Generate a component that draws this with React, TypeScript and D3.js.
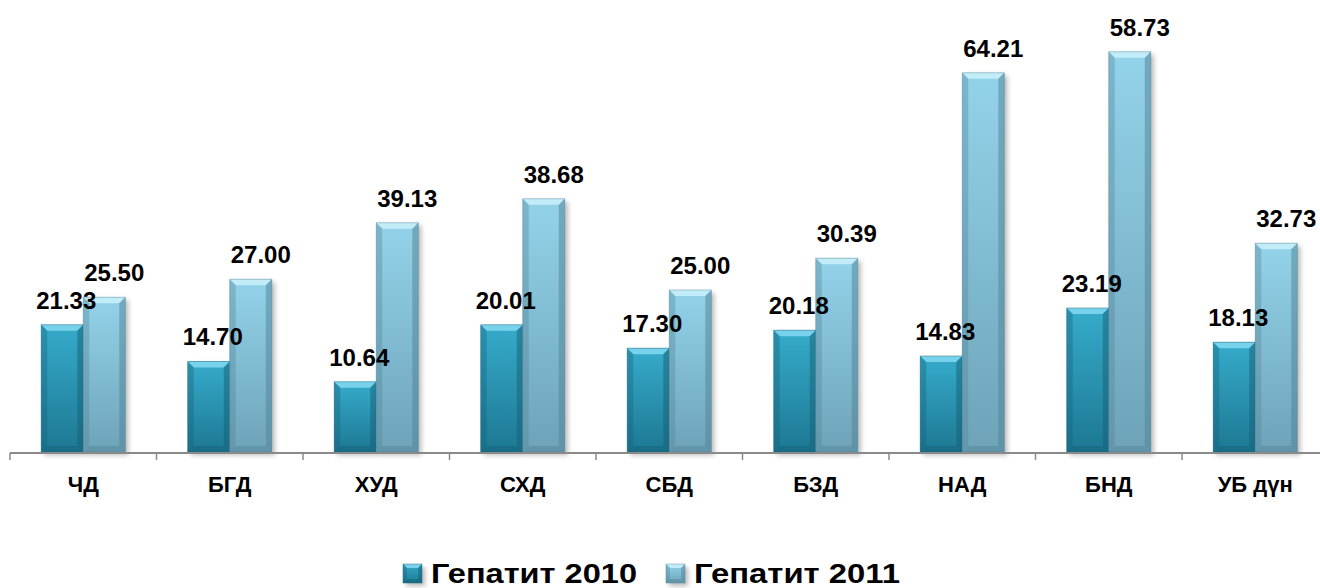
import { useEffect, useRef } from 'react';
import * as d3 from 'd3';

const categories = ['ЧД', 'БГД', 'ХУД', 'СХД', 'СБД', 'БЗД', 'НАД', 'БНД', 'УБ дүн'];
const seriesNames = ['Гепатит 2010', 'Гепатит 2011'];

// printed data labels
const labels2010 = [21.33, 14.7, 10.64, 20.01, 17.3, 20.18, 14.83, 23.19, 18.13];
const labels2011 = [25.5, 27.0, 39.13, 38.68, 25.0, 30.39, 64.21, 58.73, 32.73];

// bar heights as drawn in the picture (they do not follow the labels exactly)
const bars2010 = [21.2, 15.1, 11.7, 21.2, 17.3, 20.3, 16.0, 24.0, 18.3];
const bars2011 = [25.8, 28.8, 38.2, 42.2, 27.0, 32.3, 63.2, 66.7, 34.8];

const palette = [
  { top: '#36abcb', bottom: '#1d7893', light: '#80d6ee', dark: '#155f75' },
  { top: '#93d3ea', bottom: '#6ea3b8', light: '#c8eef9', dark: '#4f8296' },
];

export default function App() {
  const svgRef = useRef<SVGSVGElement>(null);

  useEffect(() => {
    if (!svgRef.current) return;
    const width = 1320;
    const height = 588;
    const baseY = 452;

    const svg = d3.select(svgRef.current);
    svg.selectAll('*').remove();
    svg.attr('width', width).attr('height', height);

    const defs = svg.append('defs');
    palette.forEach((p, i) => {
      const g = defs.append('linearGradient')
        .attr('id', `grad${i}`)
        .attr('x1', 0).attr('y1', 0).attr('x2', 0).attr('y2', 1);
      g.append('stop').attr('offset', '0%').attr('stop-color', p.top);
      g.append('stop').attr('offset', '100%').attr('stop-color', p.bottom);
    });
    defs.append('filter')
      .attr('id', 'shadow')
      .attr('x', '-20%').attr('y', '-5%').attr('width', '140%').attr('height', '115%')
      .append('feGaussianBlur').attr('stdDeviation', 2.5);

    const x = d3.scaleBand<string>()
      .domain(categories)
      .range([10, 10 + 146.5 * categories.length]);
    const bw = x.bandwidth();
    const x1 = d3.scaleBand<string>()
      .domain(seriesNames)
      .range([bw * 0.213, bw * 0.787]);
    const y = d3.scaleLinear().domain([0, 70]).range([baseY, 32]);

    const rows = categories.flatMap((c, i) => [
      { c, s: 0, v: bars2010[i], label: labels2010[i] },
      { c, s: 1, v: bars2011[i], label: labels2011[i] },
    ]);

    const drawBevelBox = (
      g: d3.Selection<SVGGElement, unknown, null, undefined>,
      bx: number, by: number, w: number, h: number, s: number, b: number,
    ) => {
      const p = palette[s];
      g.append('rect')
        .attr('x', bx + 3).attr('y', by + 3).attr('width', w).attr('height', h)
        .attr('fill', 'rgba(0,0,0,0.28)')
        .attr('filter', 'url(#shadow)');
      g.append('rect')
        .attr('x', bx).attr('y', by).attr('width', w).attr('height', h)
        .attr('fill', `url(#grad${s})`);
      const poly = (pts: number[][], fill: string, op: number) =>
        g.append('polygon')
          .attr('points', pts.map(q => q.join(',')).join(' '))
          .attr('fill', fill).attr('opacity', op);
      poly([[bx, by], [bx + w, by], [bx + w - b, by + b], [bx + b, by + b]], p.light, 0.9);
      poly([[bx, by], [bx + b, by + b], [bx + b, by + h - b], [bx, by + h]], p.dark, 0.35);
      poly([[bx + w, by], [bx + w - b, by + b], [bx + w - b, by + h - b], [bx + w, by + h]], p.dark, 0.5);
      poly([[bx, by + h], [bx + b, by + h - b], [bx + w - b, by + h - b], [bx + w, by + h]], p.dark, 0.45);
      g.append('rect')
        .attr('x', bx).attr('y', by).attr('width', w).attr('height', h)
        .attr('fill', 'none').attr('stroke', p.dark).attr('stroke-opacity', 0.5).attr('stroke-width', 0.8);
    };

    const barsG = svg.append('g');
    rows.forEach(d => {
      const bx = (x(d.c) || 0) + (x1(seriesNames[d.s]) || 0);
      const by = y(d.v);
      drawBevelBox(barsG, bx, by, x1.bandwidth(), baseY - by, d.s, 6);
    });

    // axis
    const axisG = svg.append('g');
    axisG.append('line')
      .attr('x1', 10).attr('x2', width).attr('y1', baseY + 1).attr('y2', baseY + 1)
      .attr('stroke', '#8a8a8a').attr('stroke-width', 2);
    const bounds = categories.map(c => x(c) || 0);
    axisG.selectAll('.tick')
      .data(bounds)
      .join('line')
      .attr('x1', d => d).attr('x2', d => d)
      .attr('y1', baseY + 1).attr('y2', baseY + 8)
      .attr('stroke', '#8a8a8a').attr('stroke-width', 1.5);
    axisG.selectAll('.cat')
      .data(categories)
      .join('text')
      .attr('x', d => (x(d) || 0) + bw / 2)
      .attr('y', 492)
      .attr('text-anchor', 'middle')
      .style('font-family', '"Liberation Sans", Arial, sans-serif')
      .style('font-weight', 'bold')
      .style('font-size', '22px')
      .style('fill', '#000')
      .text(d => d);

    // value labels
    svg.append('g').selectAll('text')
      .data(rows)
      .join('text')
      .attr('x', d => (x(d.c) || 0) + (x1(seriesNames[d.s]) || 0) + x1.bandwidth() / 2 + (d.s === 0 ? 4 : 10))
      .attr('y', d => y(d.v) - 16)
      .attr('text-anchor', 'middle')
      .style('font-family', '"Liberation Sans", Arial, sans-serif')
      .style('font-weight', 'bold')
      .style('font-size', '24px')
      .style('fill', '#000')
      .text(d => d.label.toFixed(2));

    // legend
    const legend = svg.append('g');
    const legendX = [403, 666];
    seriesNames.forEach((name, i) => {
      const lg = legend.append('g');
      drawBevelBox(lg, legendX[i], 564, 19, 19, i, 4);
      lg.append('text')
        .attr('x', legendX[i] + 28)
        .attr('y', 583)
        .attr('textLength', 206)
        .attr('lengthAdjust', 'spacingAndGlyphs')
        .style('font-family', '"Liberation Sans", Arial, sans-serif')
        .style('font-weight', 'bold')
        .style('font-size', '27px')
        .style('fill', '#000')
        .text(name);
    });
  }, []);

  return (
    <div style={{ position: 'absolute', left: 0, top: 0 }}>
      <svg ref={svgRef}></svg>
    </div>
  );
}
